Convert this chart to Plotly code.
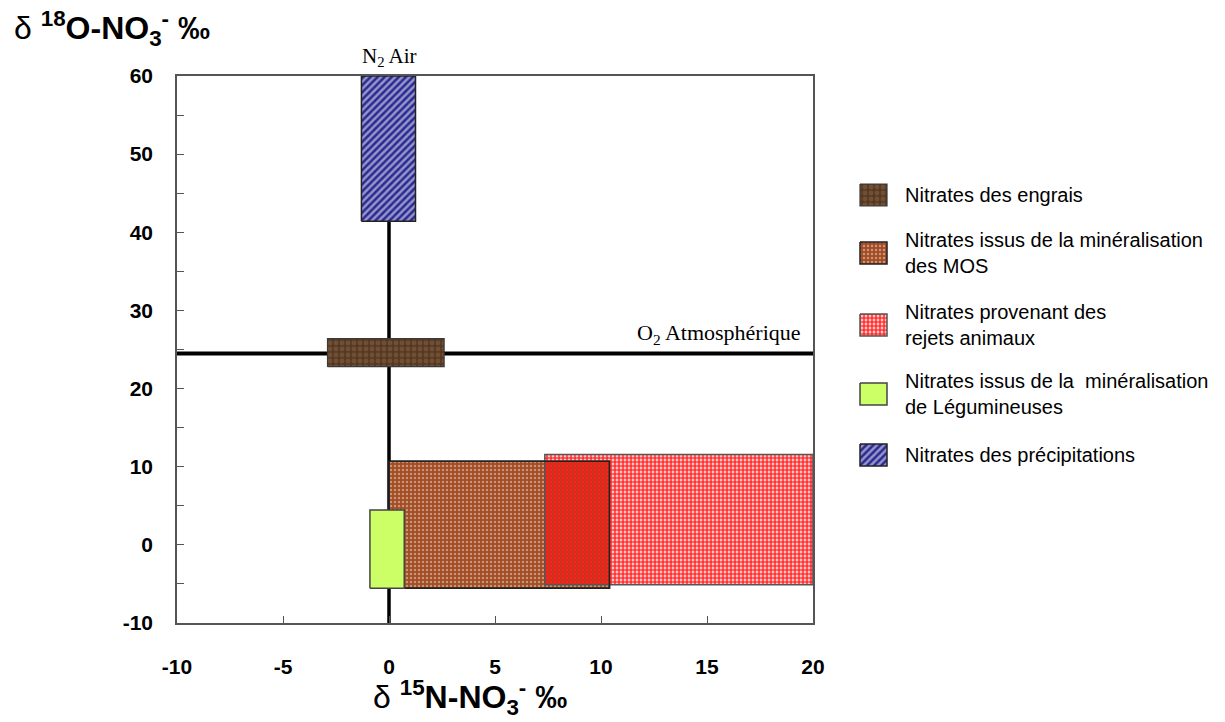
import plotly.graph_objects as go

# ---------------- data ----------------
sources = [
    "Nitrates des engrais",
    "Nitrates issus de la minéralisation<br>des MOS",
    "Nitrates provenant des<br>rejets animaux",
    "Nitrates issus de la  minéralisation<br>de Légumineuses",
    "Nitrates des précipitations",
]
keys = ["engrais", "mos", "animaux", "legumineuses", "precipitations"]
d15n_min = [-2.9, 0.0, 7.35, -0.9, -1.3]
d15n_max = [2.6, 10.4, 20.0, 0.72, 1.25]
d18o_min = [22.8, -5.55, -5.1, -5.55, 41.4]
d18o_max = [26.4, 10.7, 11.55, 4.45, 60.0]

o2_atm_d18o = 24.5      # O2 atmosphérique reference
n2_air_d15n = 0.0       # N2 Air reference

x_ticks = [-10, -5, 0, 5, 10, 15, 20]
x_ticktext = ["-10", "-5", "0", "5", "10", "15", "20"]
y_ticks = [-10, 0, 10, 20, 30, 40, 50, 60]
y_ticktext = ["-10", "0", "10", "20", "30", "40", "50", "60"]

# ---------------- styles ----------------
styles = {
    "engrais": dict(fillcolor="#593a23",
                    fillpattern=dict(shape=".", fgcolor="#8e6d4c", bgcolor="#573822",
                                     size=6, solidity=0.5, fgopacity=0.45),
                    line=dict(color="#3a3a3a", width=1.2)),
    "mos": dict(fillcolor="#a4512a",
                fillpattern=dict(shape=".", fgcolor="#f3dccb", bgcolor="#a14c24",
                                 size=4, solidity=0.32),
                line=dict(color="#222222", width=1.5)),
    "animaux": dict(fillcolor="rgba(0,0,0,0)",
                    fillpattern=dict(shape=".", fgcolor="#ff1010", bgcolor="rgba(0,0,0,0)",
                                     size=4, solidity=0.72, fgopacity=0.85),
                    line=dict(color="#555555", width=1.5)),
    "legumineuses": dict(fillcolor="#ccff66", line=dict(color="#444444", width=1.5)),
    "precipitations": dict(fillcolor="#26268e",
                           fillpattern=dict(shape="/", fgcolor="white", bgcolor="#2a2a92",
                                            size=5, solidity=0.5),
                           line=dict(color="#222222", width=1.5)),
}
draw_order = ["mos", "animaux", "legumineuses", "engrais", "precipitations"]

W, H = 1225, 722
ML, MR, MT, MB = 177, 10, 76, 99
plot_w = W - ML - MR
main_right_px = 813
main_dom = (main_right_px - ML) / plot_w

fig = go.Figure()

# reference lines
fig.add_trace(go.Scatter(x=[n2_air_d15n, n2_air_d15n], y=[y_ticks[0], y_ticks[-1]],
                         mode="lines", line=dict(color="black", width=3.5),
                         hoverinfo="skip"))
fig.add_trace(go.Scatter(x=[x_ticks[0], x_ticks[-1]], y=[o2_atm_d18o, o2_atm_d18o],
                         mode="lines", line=dict(color="black", width=4),
                         hoverinfo="skip"))


def rect(i):
    x0, x1, y0, y1 = d15n_min[i], d15n_max[i], d18o_min[i], d18o_max[i]
    return [x0, x1, x1, x0, x0], [y0, y0, y1, y1, y0]


for k in draw_order:
    i = keys.index(k)
    xs, ys = rect(i)
    fig.add_trace(go.Scatter(x=xs, y=ys, mode="lines", fill="toself",
                             name=sources[i], hoveron="fills", **styles[k]))
    if k == "animaux":
        # MOS outline visible over the animal box
        j = keys.index("mos")
        xs2, ys2 = rect(j)
        fig.add_trace(go.Scatter(x=xs2, y=ys2, mode="lines",
                                 line=styles["mos"]["line"], hoverinfo="skip"))

# ---------------- manual legend (pixel-scaled axes) ----------------
leg_centers = [195, 253, 325, 394, 455]
leg_x0, leg_x1, leg_half = 860, 887, 11
for i, k in enumerate(keys):
    c = leg_centers[i]
    fig.add_trace(go.Scatter(x=[leg_x0, leg_x1, leg_x1, leg_x0, leg_x0],
                             y=[c - leg_half, c - leg_half, c + leg_half, c + leg_half, c - leg_half],
                             mode="lines", fill="toself", xaxis="x2", yaxis="y2",
                             hoverinfo="skip", **styles[k]))
    fig.add_annotation(x=903, y=c, xref="x2", yref="y2", text=sources[i],
                       showarrow=False, xanchor="left", yanchor="middle", align="left",
                       font=dict(family="Liberation Sans, Arial", size=20, color="black"))

# ---------------- text annotations ----------------
fig.add_annotation(x=n2_air_d15n, y=1, xref="x", yref="paper", yshift=4,
                   text="N<sub>2</sub> Air", showarrow=False, yanchor="bottom",
                   font=dict(family="Liberation Serif, Times New Roman", size=21, color="black"))
fig.add_annotation(x=x_ticks[-1], y=o2_atm_d18o, xref="x", yref="y", xshift=-10, yshift=3,
                   text="O<sub>2</sub> Atmosphérique", showarrow=False,
                   xanchor="right", yanchor="bottom",
                   font=dict(family="Liberation Serif, Times New Roman", size=22, color="black"))

fig.add_annotation(x=0, y=1, xref="paper", yref="paper", xshift=-165, yshift=48,
                   text="δ <b><sup>18</sup>O-NO<sub>3</sub><sup>-</sup> ‰</b>",
                   showarrow=False, xanchor="left", yanchor="middle",
                   font=dict(family="Liberation Sans, Arial", size=32, color="black"))
fig.add_annotation(x=(470 - ML) / plot_w, y=0, xref="paper", yref="paper", yshift=-74,
                   text="δ <b><sup>15</sup>N-NO<sub>3</sub><sup>-</sup> ‰</b>",
                   showarrow=False, xanchor="center", yanchor="middle",
                   font=dict(family="Liberation Sans, Arial", size=32, color="black"))

axis_col = "#555555"
tickfont = dict(family="Liberation Sans, Arial", size=21, color="black", weight="bold")

fig.update_layout(
    width=W, height=H,
    margin=dict(l=ML, r=MR, t=MT, b=MB, pad=0, autoexpand=False),
    paper_bgcolor="white", plot_bgcolor="white",
    showlegend=False,
    xaxis=dict(domain=[0, main_dom], range=[x_ticks[0], x_ticks[-1]],
               tickvals=x_ticks, ticktext=x_ticktext,
               ticks="inside", ticklen=7, tickcolor=axis_col, tickwidth=1.2,
               showline=True, linecolor=axis_col, linewidth=1.5, mirror=True,
               showgrid=False, zeroline=False, tickfont=tickfont, ticklabelstandoff=24,
               automargin=False),
    yaxis=dict(range=[y_ticks[0], y_ticks[-1]], tickvals=y_ticks, ticktext=y_ticktext,
               ticks="inside", ticklen=7, tickcolor=axis_col, tickwidth=1.2,
               minor=dict(dtick=5, tick0=0, ticks="inside", ticklen=7, tickcolor=axis_col),
               showline=True, linecolor=axis_col, linewidth=1.5, mirror=True,
               showgrid=False, zeroline=False, tickfont=tickfont, ticklabelstandoff=18,
               automargin=False),
    xaxis2=dict(domain=[(850 - ML) / plot_w, 1], range=[850, W - MR], visible=False,
                anchor="y2", fixedrange=True, automargin=False),
    yaxis2=dict(domain=[0, 1], range=[H - MB, MT], visible=False, anchor="x2",
                fixedrange=True, automargin=False),
)

fig.write_html("out.html")
